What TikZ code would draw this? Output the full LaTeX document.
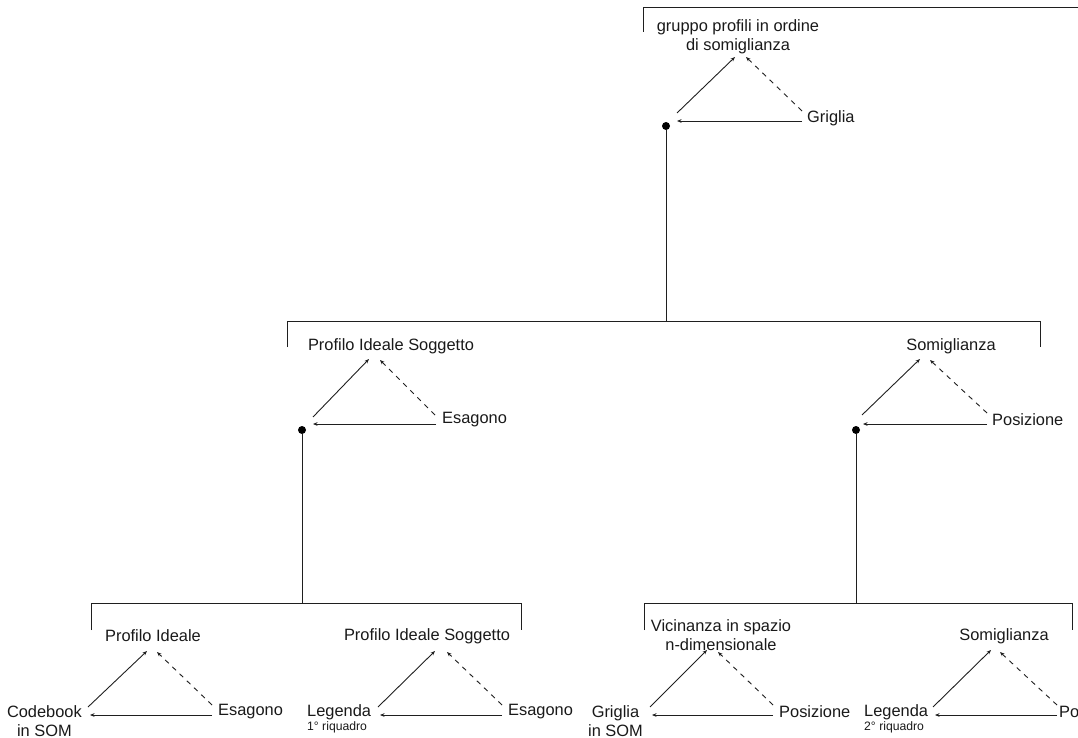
\documentclass[tikz,border=0pt]{standalone}
\usepackage{fontspec}
\setmainfont{Liberation Sans}
\usetikzlibrary{arrows.meta}

\begin{document}
\begin{tikzpicture}[x=1pt,y=-1pt,
  line/.style={line width=0.9pt, draw=black!88},
  arr/.style={line, -{Stealth[length=4.5pt,width=3.6pt]}},
  darr/.style={arr, dash pattern=on 5pt off 5pt},
  lbl/.style={font=\fontsize{16.4}{19.5}\selectfont, text=black!90, inner sep=0pt, align=center},
  sub/.style={font=\fontsize{12.2}{14}\selectfont, text=black!90, inner sep=0pt},
  dot/.style={circle, fill=black, inner sep=0pt, minimum size=8pt}]

\useasboundingbox (0,0) rectangle (1078,738);
\clip (0,0) rectangle (1078,738);

% ---------- top level ----------
\node[lbl] (g0) at (738,37) {gruppo profili in ordine\\di somiglianza};
\node[lbl, anchor=west] (g0r) at (807,118) {Griglia};
\node[dot] (d0) at (666,126) {};
\coordinate (g0a) at (677,113); \coordinate (g0b) at (735,57);
\coordinate (g0c) at (802,111); \coordinate (g0d) at (746,57);
\coordinate (g0e) at (802,121); \coordinate (g0f) at (677,121);
\draw[arr] (g0a) -- (g0b);
\draw[darr] (g0c) -- (g0d);
\draw[arr] (g0e) -- (g0f);
\coordinate (b0l) at (643,32); \coordinate (b0c) at (643,7); \coordinate (b0r) at (1090,7);
\draw[line] (b0l) -- (b0c) -- (b0r);

% ---------- middle bracket ----------
\coordinate (m0) at (666,321);
\coordinate (m1) at (287,347); \coordinate (m1t) at (287,321);
\coordinate (m2) at (1040,347); \coordinate (m2t) at (1040,321);
\draw[line] (d0) -- (m0);
\draw[line] (m1) -- (m1t) -- (m2t) -- (m2);

% left middle triangle
\node[lbl] (p1) at (391,346) {Profilo Ideale Soggetto};
\node[lbl, anchor=west] (p1r) at (442,420) {Esagono};
\node[dot] (d1) at (302,430) {};
\coordinate (p1a) at (313,417); \coordinate (p1b) at (369,359);
\coordinate (p1c) at (435,415); \coordinate (p1d) at (380,360);
\coordinate (p1e) at (436,424); \coordinate (p1f) at (313,424);
\draw[arr] (p1a) -- (p1b);
\draw[darr] (p1c) -- (p1d);
\draw[arr] (p1e) -- (p1f);

% right middle triangle
\node[lbl] (s1) at (951,346) {Somiglianza};
\node[lbl, anchor=west] (s1r) at (992,420) {Posizione};
\node[dot] (d2) at (856,430) {};
\coordinate (s1a) at (862,415); \coordinate (s1b) at (920,359);
\coordinate (s1c) at (987,413); \coordinate (s1d) at (930,360);
\coordinate (s1e) at (987,424); \coordinate (s1f) at (863,424);
\draw[arr] (s1a) -- (s1b);
\draw[darr] (s1c) -- (s1d);
\draw[arr] (s1e) -- (s1f);

% ---------- bottom left bracket ----------
\coordinate (l0) at (302,603);
\coordinate (l1) at (91,630); \coordinate (l1t) at (91,603);
\coordinate (l2) at (521,630); \coordinate (l2t) at (521,603);
\draw[line] (d1) -- (l0);
\draw[line] (l1) -- (l1t) -- (l2t) -- (l2);

% Profilo Ideale
\node[lbl] (q1) at (153,636) {Profilo Ideale};
\node[lbl, anchor=north east] (q1l) at (82,705) {Codebook\\in SOM};
\node[lbl, anchor=west] (q1r) at (218,712) {Esagono};
\coordinate (q1a) at (88,707); \coordinate (q1b) at (147,651);
\coordinate (q1c) at (212,705); \coordinate (q1d) at (157,652);
\coordinate (q1e) at (212,715); \coordinate (q1f) at (90,715);
\draw[arr] (q1a) -- (q1b);
\draw[darr] (q1c) -- (q1d);
\draw[arr] (q1e) -- (q1f);

% Profilo Ideale Soggetto
\node[lbl] (q2) at (427,636) {Profilo Ideale Soggetto};
\node[lbl, anchor=west] (q2l) at (307,712) {Legenda};
\node[sub, anchor=west] (q2s) at (307,727) {1° riquadro};
\node[lbl, anchor=west] (q2r) at (508,712) {Esagono};
\coordinate (q2a) at (378,707); \coordinate (q2b) at (435,651);
\coordinate (q2c) at (502,705); \coordinate (q2d) at (447,652);
\coordinate (q2e) at (502,715); \coordinate (q2f) at (380,715);
\draw[arr] (q2a) -- (q2b);
\draw[darr] (q2c) -- (q2d);
\draw[arr] (q2e) -- (q2f);

% ---------- bottom right bracket ----------
\coordinate (r0) at (856,603);
\coordinate (r1) at (644,630); \coordinate (r1t) at (644,603);
\coordinate (r2) at (1072,630); \coordinate (r2t) at (1072,603);
\draw[line] (d2) -- (r0);
\draw[line] (r1) -- (r1t) -- (r2t) -- (r2);

% Vicinanza in spazio n-dimensionale
\node[lbl] (v1) at (721,635) {Vicinanza in spazio\\n-dimensionale};
\node[lbl, anchor=north east] (v1l) at (643,705) {Griglia\\in SOM};
\node[lbl, anchor=west] (v1r) at (779,712) {Posizione};
\coordinate (v1a) at (650,707); \coordinate (v1b) at (707,650);
\coordinate (v1c) at (773,705); \coordinate (v1d) at (718,652);
\coordinate (v1e) at (773,715); \coordinate (v1f) at (652,715);
\draw[arr] (v1a) -- (v1b);
\draw[darr] (v1c) -- (v1d);
\draw[arr] (v1e) -- (v1f);

% Somiglianza
\node[lbl] (v2) at (1004,636) {Somiglianza};
\node[lbl, anchor=west] (v2l) at (864,712) {Legenda};
\node[sub, anchor=west] (v2s) at (864,727) {2° riquadro};
\node[lbl, anchor=west] (v2r) at (1059,712) {Posizione};
\coordinate (v2a) at (933,707); \coordinate (v2b) at (991,650);
\coordinate (v2c) at (1057,705); \coordinate (v2d) at (1000,652);
\coordinate (v2e) at (1057,715); \coordinate (v2f) at (935,715);
\draw[arr] (v2a) -- (v2b);
\draw[darr] (v2c) -- (v2d);
\draw[arr] (v2e) -- (v2f);
\end{tikzpicture}
\end{document}
